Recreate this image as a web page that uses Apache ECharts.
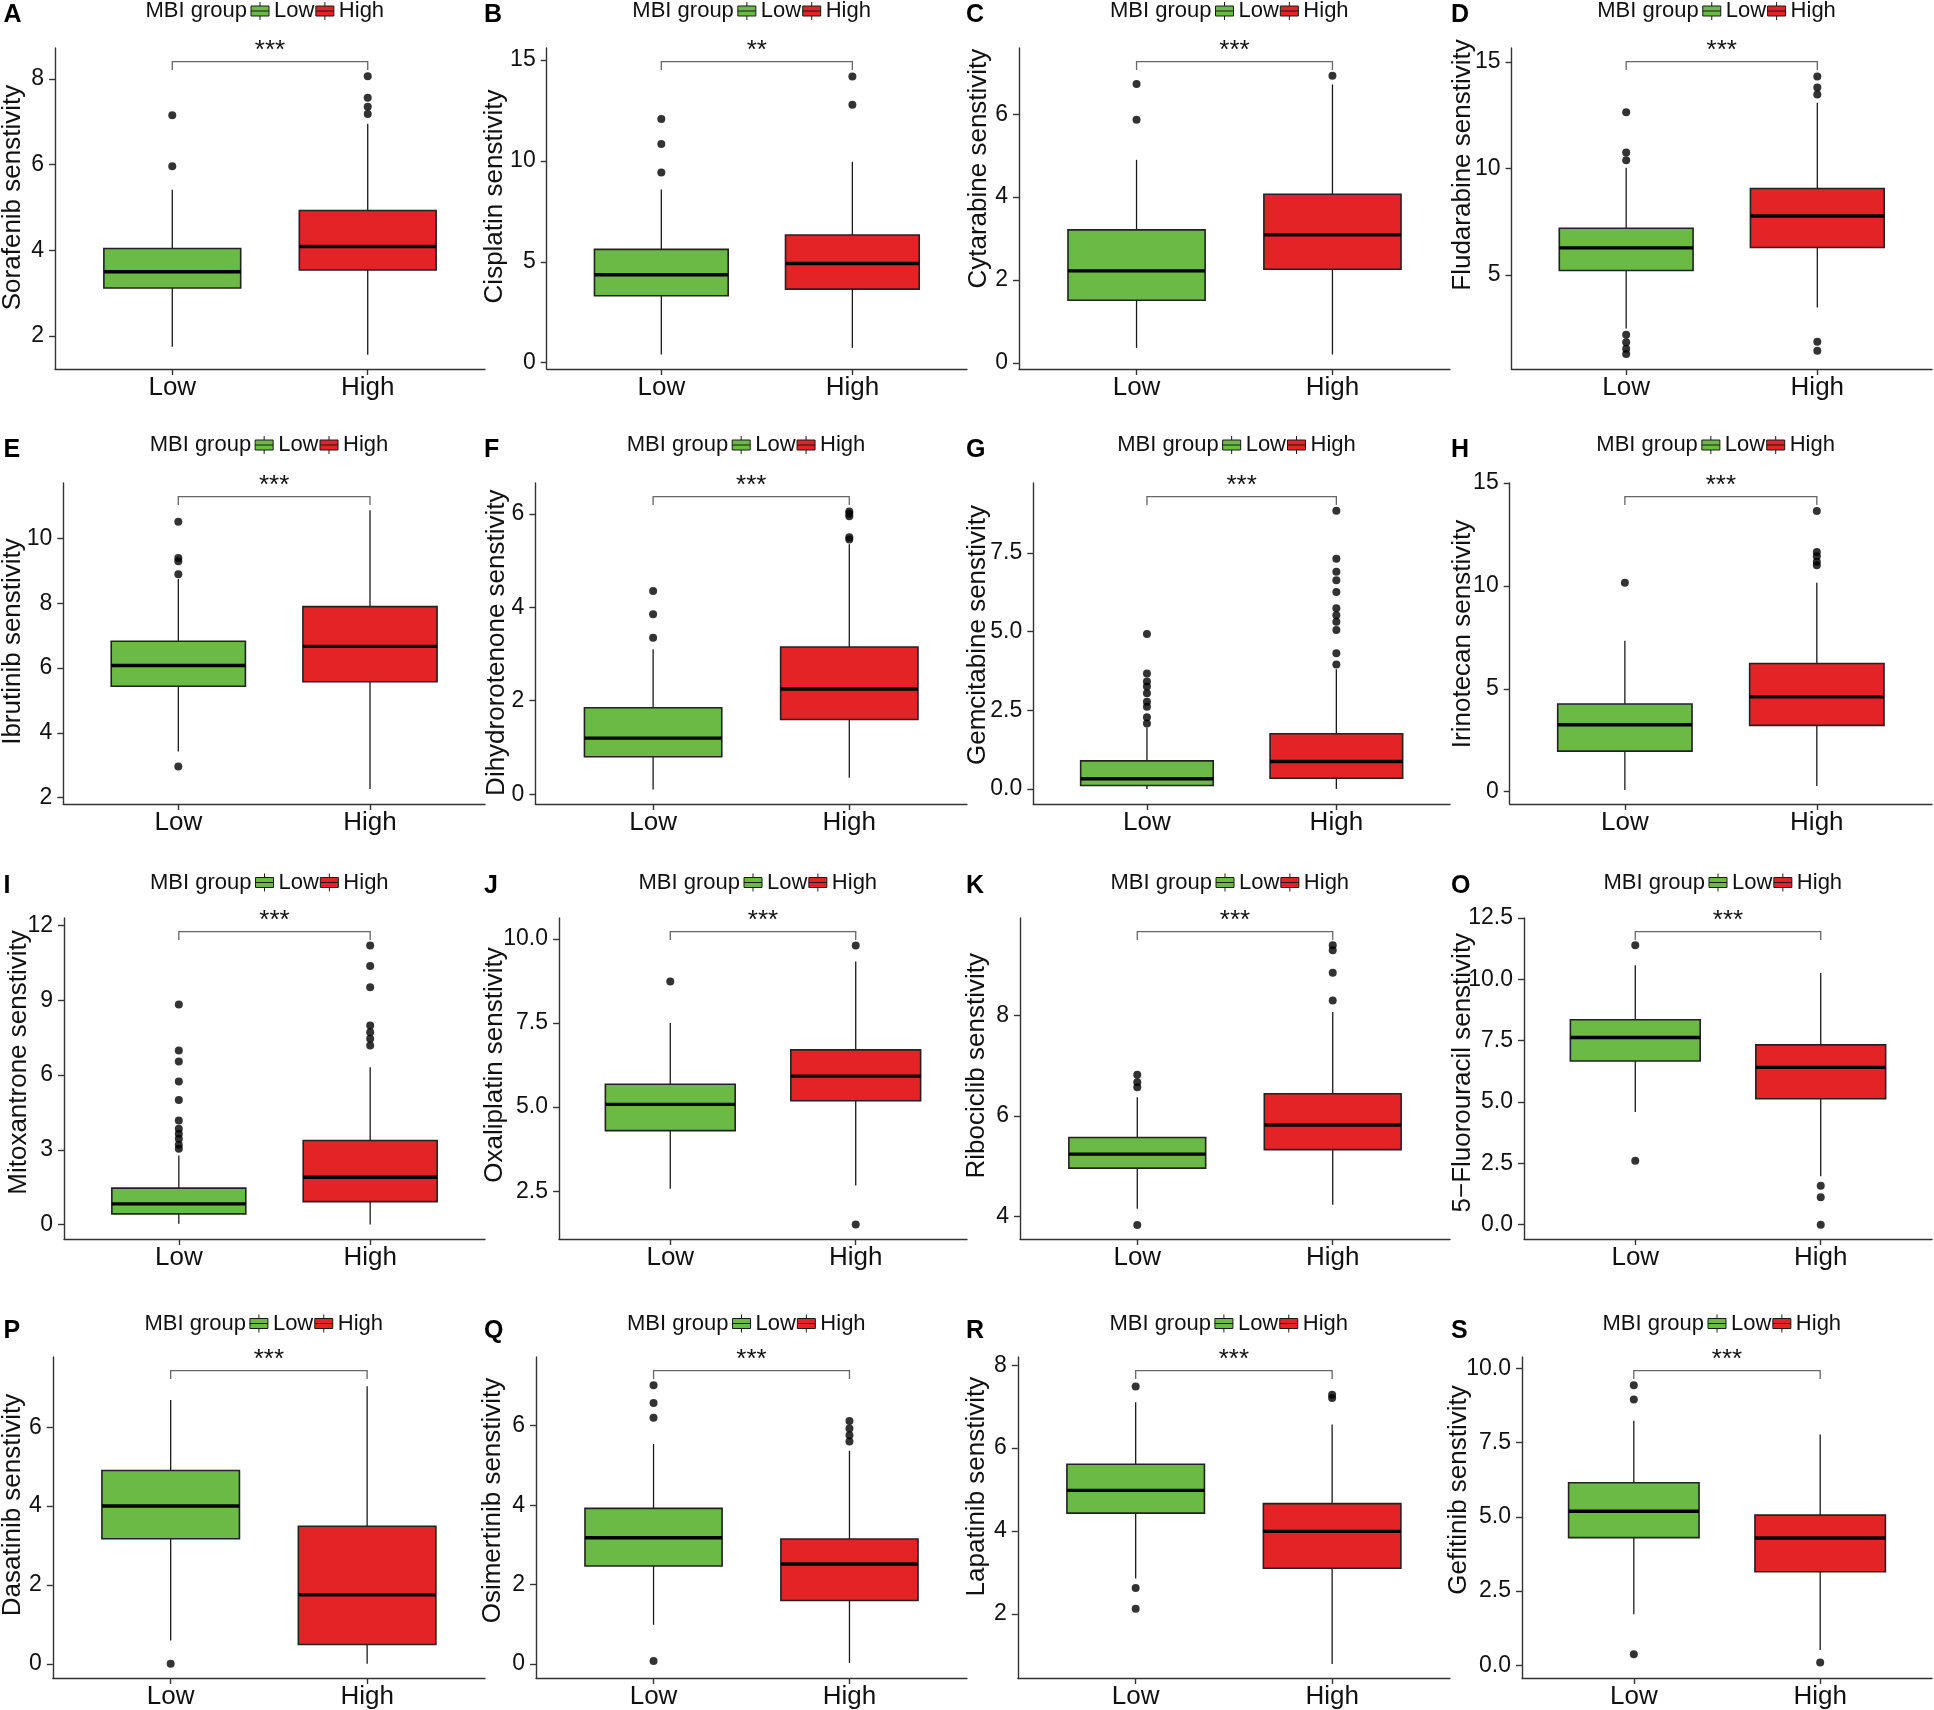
<!DOCTYPE html>
<html>
<head>
<meta charset="utf-8">
<script src="https://cdn.jsdelivr.net/npm/echarts@6/dist/echarts.min.js"></script>
<style>
  html, body { margin: 0; padding: 0; background: #fff; }
  #chart { width: 1934px; height: 1710px; }
</style>
</head>
<body>
<div id="chart"></div>
<script>
// ---- data ----
const groups = ['Low', 'High'];
const letters = ['A', 'B', 'C', 'D', 'E', 'F', 'G', 'H', 'I', 'J', 'K', 'O', 'P', 'Q', 'R', 'S'];
const drugs = ['Sorafenib', 'Cisplatin', 'Cytarabine', 'Fludarabine',
  'Ibrutinib', 'Dihydrorotenone', 'Gemcitabine', 'Irinotecan',
  'Mitoxantrone', 'Oxaliplatin', 'Ribociclib', '5\u2212Fluorouracil',
  'Dasatinib', 'Osimertinib', 'Lapatinib', 'Gefitinib'];
const stars = ['***', '**', '***', '***', '***', '***', '***', '***',
  '***', '***', '***', '***', '***', '***', '***', '***'];

// y tick labels per panel
const yTicks = [
  ['2', '4', '6', '8'], ['0', '5', '10', '15'], ['0', '2', '4', '6'], ['5', '10', '15'],
  ['2', '4', '6', '8', '10'], ['0', '2', '4', '6'], ['0.0', '2.5', '5.0', '7.5'], ['0', '5', '10', '15'],
  ['0', '3', '6', '9', '12'], ['2.5', '5.0', '7.5', '10.0'], ['4', '6', '8'], ['0.0', '2.5', '5.0', '7.5', '10.0', '12.5'],
  ['0', '2', '4', '6'], ['0', '2', '4', '6'], ['2', '4', '6', '8'], ['0.0', '2.5', '5.0', '7.5', '10.0']
];
// y axis range per panel
const yRange = [
  [1.23, 8.72], [-0.31, 15.6], [-0.15, 7.6], [0.6, 15.65],
  [1.8, 11.72], [-0.21, 6.66], [-0.48, 9.72], [-0.6, 15.0],
  [-0.58, 12.3], [1.08, 10.62], [3.55, 9.94], [-0.585, 12.5],
  [-0.36, 7.78], [-0.35, 7.73], [0.45, 8.2], [-0.43, 10.39]
];
// [whisker low, Q1, median, Q3, whisker high]
const lowBox = [
  [1.75, 3.12, 3.50, 4.04, 5.41], [0.41, 3.32, 4.36, 5.62, 8.59], [0.36, 1.51, 2.22, 3.21, 4.90], [2.5, 5.22, 6.28, 7.2, 10.03],
  [3.42, 5.44, 6.08, 6.83, 8.75], [0.1, 0.8, 1.2, 1.85, 3.1], [0.0, 0.11, 0.32, 0.89, 1.95], [0.08, 1.97, 3.25, 4.26, 7.33],
  [0.03, 0.43, 0.83, 1.46, 2.77], [2.57, 4.3, 5.08, 5.68, 7.5], [4.15, 4.96, 5.24, 5.57, 6.37], [4.59, 6.67, 7.63, 8.35, 10.57],
  [0.59, 3.17, 4.0, 4.9, 6.69], [0.99, 2.47, 3.18, 3.92, 5.54], [2.85, 4.43, 4.98, 5.61, 7.11], [1.72, 4.3, 5.19, 6.15, 8.24]
];
const highBox = [
  [1.56, 3.54, 4.09, 4.93, 6.95], [0.74, 3.65, 4.92, 6.33, 9.96], [0.20, 2.26, 3.09, 4.07, 6.72], [3.48, 6.3, 7.77, 9.06, 13.08],
  [2.26, 5.58, 6.67, 7.9, 10.88], [0.35, 1.6, 2.25, 3.15, 5.35], [0.0, 0.34, 0.87, 1.75, 3.8], [0.28, 3.22, 4.61, 6.23, 10.15],
  [0.0, 0.92, 1.9, 3.37, 6.31], [2.67, 5.19, 5.92, 6.7, 9.33], [4.23, 5.33, 5.82, 6.44, 8.07], [1.97, 5.13, 6.41, 7.33, 10.26],
  [0.0, 0.49, 1.75, 3.49, 7.04], [0.03, 1.6, 2.52, 3.15, 5.37], [0.79, 3.1, 3.99, 4.66, 6.57], [0.51, 3.15, 4.29, 5.06, 7.78]
];
const lowOut = [
  [5.96, 7.15], [9.43, 10.84, 12.08], [5.87, 6.73], [1.3, 1.55, 1.85, 2.2, 10.39, 10.75, 12.64],
  [2.96, 8.9, 9.3, 9.4, 10.52], [3.35, 3.85, 4.35], [2.08, 2.28, 2.61, 2.77, 3.04, 3.25, 3.41, 3.67, 4.92], [10.15],
  [3.04, 3.2, 3.44, 3.64, 3.84, 4.17, 5.0, 5.74, 6.54, 6.98, 8.83], [8.73], [3.83, 6.57, 6.67, 6.82], [2.6, 11.39],
  [0.0], [0.08, 6.2, 6.57, 7.02], [2.12, 2.62, 7.49], [0.37, 8.96, 9.44]
];
const highOut = [
  [7.18, 7.35, 7.56, 8.06], [12.79, 14.19], [6.93], [1.45, 1.88, 13.47, 13.8, 14.31],
  [], [5.45, 5.5, 5.95, 6.0, 6.05], [3.95, 4.31, 5.05, 5.31, 5.52, 5.74, 6.26, 6.63, 6.9, 7.31, 8.84], [11.0, 11.17, 11.44, 11.65, 13.64],
  [7.18, 7.45, 7.72, 7.99, 9.52, 10.37, 11.2], [1.51, 9.8], [8.3, 8.85, 9.3, 9.4], [0.0, 1.12, 1.59],
  [], [5.6, 5.76, 5.93, 6.12], [7.21, 7.29], [0.09]
];

// ---- layout (pixels) ----
const letterX = [3.5, 484, 966, 1451];
const plotRight = [485, 967, 1450, 1932];
const rowTop = [48, 483, 918, 1357];
const plotH = 321;
const plotLeft = [55, 546.7, 1019, 1511.5, 63.3, 535.4, 1033.3, 1509.7,
  64, 559, 1020, 1524, 52.8, 536, 1017.8, 1522];
const legendY = [11, 445, 882.5, 1323.5];
const letterY = [15.5, 450, 886, 1331];
const nameX = [12.5, 495, 978.7, 1463, 12.5, 496.8, 978, 1462.4,
  19, 495, 977, 1463, 12.5, 493, 977, 1459];
const nameY = [197.5, 196.5, 168.6, 165, 641.5, 642.7, 635, 634,
  1062.5, 1065, 1065.8, 1072.7, 1505, 1500.5, 1486.6, 1490];

const FONT = '"Liberation Sans", Arial, Helvetica, sans-serif';
const GREEN = '#6aba45';
const RED = '#e42326';
const INK = '#111';
const boxIcon = 'path://M0,4L18,4L18,14L0,14Z M9,0L9,4 M9,14L9,18 M0,9L18,9';

function boxRenderer(fill) {
  return function (params, api) {
    const x = api.value(0);
    const pMin = api.coord([x, api.value(1)]);
    const pQ1 = api.coord([x, api.value(2)]);
    const pMed = api.coord([x, api.value(3)]);
    const pQ3 = api.coord([x, api.value(4)]);
    const pMax = api.coord([x, api.value(5)]);
    const w = api.size([0.7, 0])[0];
    const cx = pMin[0];
    const whisker = { stroke: '#1a1a1a', lineWidth: 1.3 };
    return {
      type: 'group',
      children: [
        { type: 'line', shape: { x1: cx, y1: pMax[1], x2: cx, y2: pQ3[1] }, style: whisker },
        { type: 'line', shape: { x1: cx, y1: pQ1[1], x2: cx, y2: pMin[1] }, style: whisker },
        { type: 'rect', shape: { x: cx - w / 2, y: pQ3[1], width: w, height: pQ1[1] - pQ3[1] },
          style: { fill: fill, stroke: '#222', lineWidth: 1.6 } },
        { type: 'line', shape: { x1: cx - w / 2, y1: pMed[1], x2: cx + w / 2, y2: pMed[1] },
          style: { stroke: '#000', lineWidth: 3.4 } }
      ]
    };
  };
}

function bracketRenderer(mark) {
  return function (params, api) {
    const top = params.coordSys.y;
    const x1 = api.coord([api.value(0), api.value(2)])[0];
    const x2 = api.coord([api.value(1), api.value(2)])[0];
    return {
      type: 'group',
      children: [
        { type: 'polyline',
          shape: { points: [[x1, top + 22], [x1, top + 13.7], [x2, top + 13.7], [x2, top + 22]] },
          style: { stroke: '#666', lineWidth: 1.3, fill: null } },
        { type: 'text', x: (x1 + x2) / 2, y: top + 3,
          style: { text: mark, fontSize: 26, fontFamily: FONT, fill: INK, align: 'center', verticalAlign: 'middle' } }
      ]
    };
  };
}

const grid = [], xAxis = [], yAxis = [], series = [], legend = [], elements = [];
const axisLine = { show: true, onZero: false, lineStyle: { color: '#333', width: 1.4 } };
const axisTickStyle = { color: '#333', width: 1.4 };

drugs.forEach(function (drug, i) {
  const r = Math.floor(i / 4), c = i % 4;
  const left = plotLeft[i], right = plotRight[c], top = rowTop[r];
  const ticks = yTicks[i].map(Number);
  const digits = (yTicks[i][0].split('.')[1] || '').length;

  grid.push({ left: left, top: top, width: right - left, height: plotH });

  xAxis.push({
    type: 'value', gridIndex: i, min: 0.4, max: 2.6,
    axisLine: axisLine,
    axisTick: { show: true, customValues: [1, 2], length: 6, lineStyle: axisTickStyle },
    axisLabel: { customValues: [1, 2], formatter: function (v) { return groups[Math.round(v) - 1]; },
      fontSize: 26, fontFamily: FONT, color: INK, margin: 6 },
    splitLine: { show: false }
  });

  yAxis.push({
    type: 'value', gridIndex: i, min: yRange[i][0], max: yRange[i][1],
    axisLine: axisLine,
    axisTick: { show: true, customValues: ticks, length: 6, lineStyle: axisTickStyle },
    axisLabel: { customValues: ticks, formatter: function (v) { return v.toFixed(digits); },
      fontSize: 23, fontFamily: FONT, color: INK, margin: 11 },
    splitLine: { show: false }
  });

  series.push({
    type: 'custom', name: 'Low', xAxisIndex: i, yAxisIndex: i, z: 2, silent: true,
    renderItem: boxRenderer(GREEN), encode: { x: 0, y: [1, 2, 3, 4, 5] },
    itemStyle: { color: GREEN },
    data: [[1].concat(lowBox[i])]
  });
  series.push({
    type: 'custom', name: 'High', xAxisIndex: i, yAxisIndex: i, z: 2, silent: true,
    renderItem: boxRenderer(RED), encode: { x: 0, y: [1, 2, 3, 4, 5] },
    itemStyle: { color: RED },
    data: [[2].concat(highBox[i])]
  });
  series.push({
    type: 'scatter', name: 'outlier', xAxisIndex: i, yAxisIndex: i, z: 3, silent: true,
    symbolSize: 8, itemStyle: { color: '#000' },
    data: lowOut[i].map(function (v) { return [1, v]; }).concat(highOut[i].map(function (v) { return [2, v]; }))
  });
  series.push({
    type: 'custom', name: 'signif', xAxisIndex: i, yAxisIndex: i, z: 4, silent: true,
    renderItem: bracketRenderer(stars[i]), encode: { x: [0, 1], y: 2 },
    data: [[1, 2, yRange[i][1]]]
  });

  const center = (left + right) / 2 - 6;
  legend.push({
    left: center - 13.5, top: legendY[r] - 11, padding: 0,
    itemWidth: 18, itemHeight: 18, itemGap: 1, selectedMode: false,
    textStyle: { fontSize: 22, fontFamily: FONT, color: INK },
    data: [
      { name: 'Low', icon: boxIcon, itemStyle: { color: GREEN, borderColor: '#1a1a1a', borderWidth: 1 } },
      { name: 'High', icon: boxIcon, itemStyle: { color: RED, borderColor: '#1a1a1a', borderWidth: 1 } }
    ]
  });

  elements.push({
    type: 'text', x: center - 17, y: legendY[r],
    style: { text: 'MBI group', fontSize: 22, fontFamily: FONT, fill: INK, align: 'right', verticalAlign: 'middle' }
  });
  elements.push({
    type: 'text', x: letterX[c], y: letterY[r],
    style: { text: letters[i], fontSize: 25, fontWeight: 'bold', fontFamily: FONT, fill: '#000', align: 'left', verticalAlign: 'middle' }
  });
  elements.push({
    type: 'text', x: nameX[i], y: nameY[i], rotation: Math.PI / 2,
    style: { text: drug + ' senstivity', fontSize: 26, fontFamily: FONT, fill: INK, align: 'center', verticalAlign: 'middle' }
  });
});

const chart = echarts.init(document.getElementById('chart'), null, { renderer: 'canvas' });
chart.setOption({
  animation: false,
  backgroundColor: '#fff',
  grid: grid,
  xAxis: xAxis,
  yAxis: yAxis,
  legend: legend,
  graphic: { elements: elements },
  series: series
});

window.addEventListener('resize', function () { chart.resize(); });
</script>
</body>
</html>
